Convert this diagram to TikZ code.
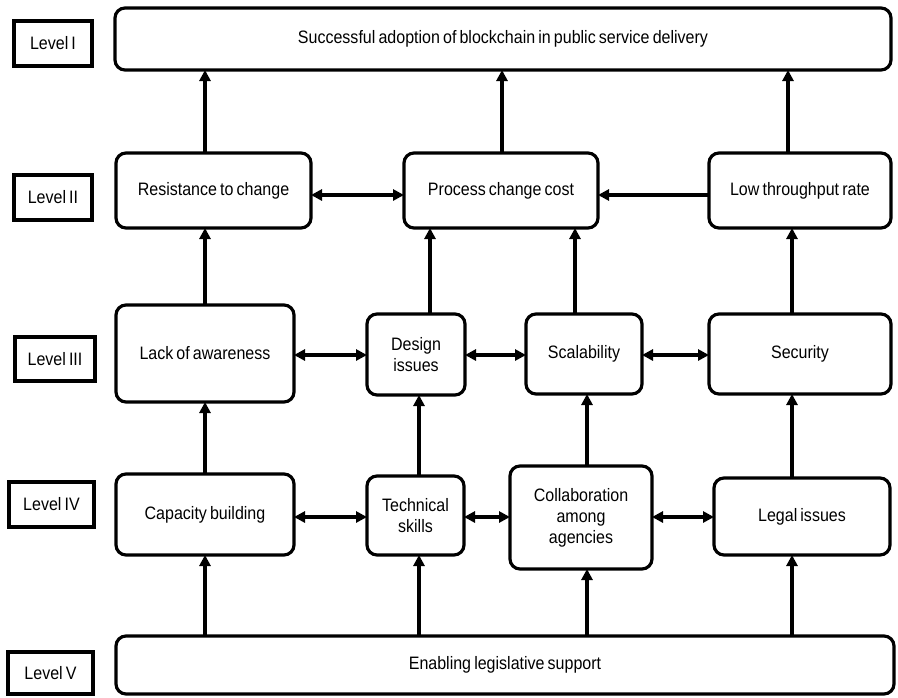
\documentclass[tikz,border=0pt]{standalone}
\usepackage{fontspec}
\setmainfont{Liberation Sans}[FakeStretch=0.89,WordSpace=0.7]
\usetikzlibrary{arrows.meta}
\begin{document}
\begin{tikzpicture}[x=1pt,y=-1pt,
  box/.style={draw,line width=3.2pt,rounded corners=10pt,inner sep=0pt,outer sep=0pt,align=center,font=\fontsize{18}{21}\selectfont},
  lvl/.style={draw,line width=3.2pt,inner sep=0pt,outer sep=0pt,font=\fontsize{18}{21}\selectfont},
  arr/.style={line width=3.5pt,-{Triangle[length=11pt,width=11pt]}},
  darr/.style={line width=4pt,{Triangle[length=11pt,width=11pt]}-{Triangle[length=11pt,width=11pt]}}]
\useasboundingbox (0,0) rectangle (898,697);
% level labels
\node[lvl,minimum width=78pt,minimum height=45pt] (l1) at (53,43.5) {Level I};
\node[lvl,minimum width=78pt,minimum height=45pt] (l2) at (53,197.5) {Level II};
\node[lvl,minimum width=80pt,minimum height=44pt] (l3) at (55,359) {Level III};
\node[lvl,minimum width=85pt,minimum height=45pt] (l4) at (51.5,504.5) {Level IV};
\node[lvl,minimum width=85pt,minimum height=42pt] (l5) at (50.5,673) {Level V};
% level I
\node[box,minimum width=776pt,minimum height=62pt] (top) at (503,39) {Successful adoption of blockchain in public service delivery};
% level II
\node[box,minimum width=195pt,minimum height=75pt] (res) at (213.5,190.5) {Resistance to change};
\node[box,minimum width=194pt,minimum height=75pt] (proc) at (501,190.5) {Process change cost};
\node[box,minimum width=182pt,minimum height=75pt] (low) at (800,190.5) {Low throughput rate};
% level III
\node[box,minimum width=178pt,minimum height=97pt] (lack) at (205,353.5) {Lack of awareness};
\node[box,minimum width=98pt,minimum height=81pt] (des) at (416,354.5) {Design\\issues};
\node[box,minimum width=116pt,minimum height=80pt] (scal) at (584,354) {Scalability};
\node[box,minimum width=182pt,minimum height=80pt] (sec) at (800,354) {Security};
% level IV
\node[box,minimum width=178pt,minimum height=81pt] (cap) at (205,514.5) {Capacity building};
\node[box,minimum width=97pt,minimum height=79pt] (tech) at (415.5,515.5) {Technical\\skills};
\node[box,minimum width=142pt,minimum height=103pt] (col) at (581,517.5) {Collaboration\\among\\agencies};
\node[box,minimum width=176pt,minimum height=77pt] (leg) at (802,516.5) {Legal issues};
% level V
\node[box,minimum width=778pt,minimum height=58pt] (env) at (505,665) {Enabling legislative support};
% column / row helpers
\coordinate (xa) at (205,0);
\coordinate (xb) at (419,0);
\coordinate (xc) at (430,0);
\coordinate (xd) at (502,0);
\coordinate (xe) at (575,0);
\coordinate (xf) at (587,0);
\coordinate (xg) at (788,0);
\coordinate (xh) at (792,0);
\coordinate (r2) at (0,195);
\coordinate (r3) at (0,355);
\coordinate (r4) at (0,517);
% vertical arrows
\draw[arr] (res.north -| xa) -- (top.south -| xa);
\draw[arr] (proc.north -| xd) -- (top.south -| xd);
\draw[arr] (low.north -| xg) -- (top.south -| xg);
\draw[arr] (lack.north -| xa) -- (res.south -| xa);
\draw[arr] (des.north -| xc) -- (proc.south -| xc);
\draw[arr] (scal.north -| xe) -- (proc.south -| xe);
\draw[arr] (sec.north -| xh) -- (low.south -| xh);
\draw[arr] (cap.north -| xa) -- (lack.south -| xa);
\draw[arr] (tech.north -| xb) -- (des.south -| xb);
\draw[arr] (col.north -| xf) -- (scal.south -| xf);
\draw[arr] (leg.north -| xh) -- (sec.south -| xh);
\draw[arr] (env.north -| xa) -- (cap.south -| xa);
\draw[arr] (env.north -| xb) -- (tech.south -| xb);
\draw[arr] (env.north -| xf) -- (col.south -| xf);
\draw[arr] (env.north -| xh) -- (leg.south -| xh);
% horizontal arrows
\draw[darr] (res.east |- r2) -- (proc.west |- r2);
\draw[arr] (low.west |- r2) -- (proc.east |- r2);
\draw[darr] (lack.east |- r3) -- (des.west |- r3);
\draw[darr] (des.east |- r3) -- (scal.west |- r3);
\draw[darr] (scal.east |- r3) -- (sec.west |- r3);
\draw[darr] (cap.east |- r4) -- (tech.west |- r4);
\draw[darr] (tech.east |- r4) -- (col.west |- r4);
\draw[darr] (col.east |- r4) -- (leg.west |- r4);
\end{tikzpicture}
\end{document}
